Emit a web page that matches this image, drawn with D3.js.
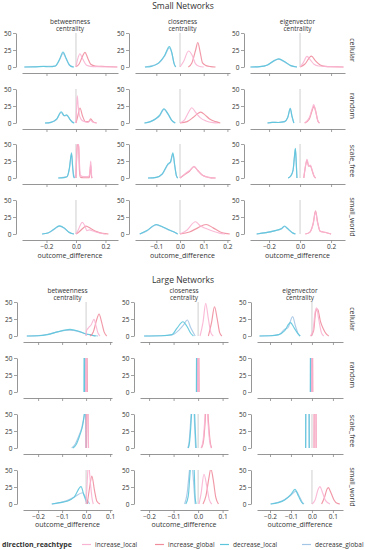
<!DOCTYPE html>
<html>
<head>
<meta charset="utf-8">
<script src="https://cdn.jsdelivr.net/npm/d3@7"></script>
<style>
body { margin: 0; background: #fff; }
text { font-family: "Open Sans", sans-serif; fill: #333; }
</style>
</head>
<body>
<svg id="chart" width="365" height="550"></svg>
<script>
const centralities = ["betweenness", "closeness", "eigenvector"];
const topologies = ["cellular", "random", "scale_free", "small_world"];
const reachtypes = ["increase_local", "increase_global", "decrease_local", "decrease_global"];
const colors = ["#f9b4d3", "#ef8d9d", "#5cc5dc", "#a4c6e6"];
const yTicks = [0, 25, 50];

const smallXTicks = [[-0.2, 0, 0.2], [-0.1, 0, 0.1, 0.2], [-0.2, 0, 0.2]];
const largeXTicks = [[-0.2, -0.1, 0, 0.1], [-0.2, -0.1, 0, 0.1], [-0.2, -0.1, 0, 0.1]];
const smallXDomains = [[-0.366, 0.285], [-0.19, 0.211], [-0.323, 0.29]];
const largeXDomains = [[-0.263, 0.108], [-0.237, 0.122], [-0.262, 0.148]];

// each row = one topology, curves in order increase_local, increase_global, decrease_local, decrease_global
// a curve is a list of [outcome_difference, density]
const smallBetweenness = [
  [
    [[0.0,0],[0.012,12],[0.027,19.5],[0.045,12],[0.07,3],[0.1,1],[0.15,0.5],[0.28,0]],
    [[0.0,0.5],[0.02,4],[0.045,16],[0.061,21.5],[0.08,13],[0.1,4],[0.13,1.5],[0.2,0.8],[0.28,0]],
    [[-0.35,0],[-0.28,0.2],[-0.22,1],[-0.18,0.3],[-0.14,1.5],[-0.11,12],[-0.088,22],[-0.065,12],[-0.045,3],[-0.03,0.5],[-0.015,0]],
    [[-0.35,0],[-0.22,0.8],[-0.14,1.3],[-0.11,11],[-0.088,20],[-0.065,11],[-0.045,3],[-0.015,0]]
  ],
  [
    [[0.0,0],[0.005,25],[0.009,40],[0.015,25],[0.025,10],[0.04,4],[0.06,2],[0.08,1],[0.1,4],[0.115,1],[0.14,0]],
    [[0.0,0],[0.01,8],[0.027,22],[0.045,10],[0.065,2],[0.085,2],[0.1,6],[0.115,2],[0.14,0]],
    [[-0.21,0],[-0.17,1],[-0.13,6],[-0.1,16.6],[-0.08,11],[-0.063,12],[-0.04,5],[-0.025,1],[-0.012,0]],
    [[-0.21,0],[-0.17,1],[-0.13,5.5],[-0.1,15.5],[-0.08,10.5],[-0.063,11],[-0.04,5],[-0.012,0]]
  ],
  [
    [[0.0,0],[0.006,40],[0.01,52],[0.018,48],[0.024,20],[0.03,4],[0.05,2],[0.08,2],[0.092,4],[0.1,25],[0.106,4],[0.11,0]],
    [[0.0,0],[0.006,38],[0.01,50],[0.018,46],[0.024,10],[0.03,1],[0.05,0.3],[0.09,0.5],[0.1,19],[0.106,1],[0.11,0]],
    [[-0.12,0],[-0.08,0.5],[-0.06,2],[-0.045,14],[-0.03,37],[-0.022,15],[-0.016,2],[-0.01,0]],
    [[-0.12,0],[-0.06,2],[-0.045,13],[-0.03,35],[-0.022,14],[-0.01,0]]
  ],
  [
    [[0.0,0],[0.015,6],[0.043,17],[0.06,12],[0.075,5],[0.09,6],[0.12,4],[0.16,1.5],[0.2,0]],
    [[0.0,0],[0.02,3],[0.045,8],[0.068,11.5],[0.1,8],[0.14,3.5],[0.18,1],[0.22,0]],
    [[-0.23,0],[-0.19,1.5],[-0.15,7],[-0.113,12],[-0.08,9],[-0.05,3],[-0.03,0.8],[-0.014,0]],
    [[-0.23,0],[-0.19,1.5],[-0.15,6.5],[-0.113,11.5],[-0.08,8.5],[-0.05,3],[-0.014,0]]
  ]
];

const smallCloseness = [
  [
    [[0.0,0],[0.015,8],[0.036,23.5],[0.05,18],[0.065,5],[0.08,1],[0.1,0]],
    [[0.035,0],[0.05,6],[0.066,25],[0.075,36],[0.085,22],[0.095,6],[0.11,2],[0.13,0.5],[0.15,0]],
    [[-0.148,0],[-0.12,1],[-0.09,6],[-0.065,17],[-0.045,30],[-0.035,22],[-0.025,5],[-0.018,0]],
    [[-0.148,0],[-0.09,5.5],[-0.065,16],[-0.045,28],[-0.035,21],[-0.025,5],[-0.018,0]]
  ],
  [
    [[0.0,0],[0.02,5],[0.035,15],[0.05,22.5],[0.065,16],[0.085,8],[0.11,3],[0.14,0.5],[0.16,0]],
    [[0.0,0],[0.03,2],[0.055,8],[0.075,14],[0.088,16],[0.105,12],[0.125,6],[0.15,2],[0.17,0]],
    [[-0.15,0],[-0.125,2],[-0.1,7],[-0.085,12],[-0.068,21],[-0.05,13],[-0.035,4],[-0.02,0]],
    [[-0.15,0],[-0.125,2],[-0.1,6.5],[-0.085,11],[-0.068,20],[-0.05,12.5],[-0.035,4],[-0.02,0]]
  ],
  [
    [[0.0,0],[0.02,6],[0.04,11],[0.059,17],[0.075,11],[0.095,4],[0.12,1],[0.15,0]],
    [[0.0,0],[0.02,5],[0.04,10],[0.059,16.5],[0.075,11],[0.095,4],[0.12,1],[0.15,0]],
    [[-0.135,0],[-0.1,1],[-0.075,6],[-0.05,21],[-0.04,24],[-0.03,37],[-0.022,18],[-0.015,3],[-0.01,0]],
    [[-0.135,0],[-0.1,1],[-0.075,5.5],[-0.05,20],[-0.04,23],[-0.03,35],[-0.022,17],[-0.015,3],[-0.01,0]]
  ],
  [
    [[0.0,0],[0.03,6],[0.065,18],[0.085,12],[0.11,8],[0.14,4],[0.17,1],[0.19,0]],
    [[0.0,0],[0.04,3],[0.075,9],[0.11,14],[0.14,9],[0.17,3],[0.19,1],[0.21,0]],
    [[-0.17,0],[-0.14,5],[-0.1,14],[-0.07,10],[-0.045,6],[-0.025,3],[-0.01,0]],
    [[-0.17,0],[-0.14,4.5],[-0.1,13.5],[-0.07,9.5],[-0.045,5.5],[-0.025,3],[-0.01,0]]
  ]
];

const smallEigenvector = [
  [
    [[0.0,0],[0.02,6],[0.045,15.7],[0.065,11],[0.09,4],[0.12,1.5],[0.2,0.5],[0.28,0]],
    [[0.0,0],[0.03,4],[0.073,16],[0.1,9],[0.13,3],[0.16,1],[0.22,0.3],[0.28,0]],
    [[-0.32,0],[-0.26,0.5],[-0.21,3],[-0.17,9],[-0.137,12],[-0.1,8],[-0.06,2],[-0.02,0]],
    [[-0.32,0],[-0.26,0.5],[-0.21,3],[-0.17,8.5],[-0.137,11.5],[-0.1,7.5],[-0.06,2],[-0.02,0]]
  ],
  [
    [[0.03,0],[0.06,8],[0.08,22],[0.088,27],[0.1,18],[0.115,3],[0.125,0]],
    [[0.03,0],[0.06,6],[0.08,20],[0.09,24.5],[0.102,16],[0.115,3],[0.125,0]],
    [[-0.21,0],[-0.18,1],[-0.14,0.8],[-0.1,2],[-0.08,8],[-0.063,21.6],[-0.052,10],[-0.04,0]],
    [[-0.21,0],[-0.18,1],[-0.14,0.8],[-0.1,2],[-0.08,7.5],[-0.063,20.5],[-0.052,9.5],[-0.04,0]]
  ],
  [
    [[0.024,0],[0.035,18],[0.045,27.5],[0.055,18],[0.067,19],[0.075,14],[0.09,3],[0.1,0]],
    [[0.024,0],[0.035,17],[0.045,26.5],[0.055,17.5],[0.067,18],[0.075,13],[0.09,3],[0.1,0]],
    [[-0.077,0],[-0.06,3],[-0.045,12],[-0.035,35],[-0.03,43.6],[-0.025,25],[-0.02,0]],
    [[-0.077,0],[-0.06,3],[-0.045,11],[-0.035,33],[-0.03,42],[-0.025,24],[-0.02,0]]
  ],
  [
    [[0.034,0],[0.06,2],[0.085,15],[0.1,33],[0.112,18],[0.13,4],[0.16,2.5],[0.2,0]],
    [[0.034,0],[0.06,2],[0.085,16],[0.1,34],[0.112,19],[0.13,4],[0.16,2.5],[0.2,0]],
    [[-0.28,0],[-0.22,2],[-0.16,5],[-0.12,8],[-0.1,11.8],[-0.08,8],[-0.05,2],[-0.03,0]],
    [[-0.28,0],[-0.22,2],[-0.16,5],[-0.12,7.5],[-0.1,11],[-0.08,7.5],[-0.05,2],[-0.03,0]]
  ]
];

const largeBetweenness = [
  [
    [[0.0,0],[0.002,8],[0.01,12],[0.022,17],[0.033,24.5],[0.042,14],[0.05,4],[0.058,0]],
    [[0.017,0],[0.03,6],[0.045,25],[0.054,32.4],[0.065,20],[0.075,6],[0.086,0]],
    [[-0.247,0],[-0.2,0.3],[-0.16,2],[-0.12,6],[-0.067,9.8],[-0.03,7],[0.0,3],[0.017,2],[0.03,0.5],[0.04,0]],
    [[-0.247,0],[-0.2,0.5],[-0.16,2.5],[-0.12,6],[-0.07,8.5],[-0.03,6.5],[0.0,3],[0.02,1.5],[0.05,0]]
  ],
  [
    [[-0.002,0],[0.0,150],[0.002,0]],
    [[0.001,0],[0.003,150],[0.005,0]],
    [[-0.009,0],[-0.007,150],[-0.005,0]],
    [[-0.006,0],[-0.004,150],[-0.002,0]]
  ],
  [
    [[-0.001,0],[0.001,80],[0.008,80],[0.01,0]],
    [[0.0,0],[0.003,90],[0.007,60],[0.01,0]],
    [[-0.055,0],[-0.04,6],[-0.025,20],[-0.015,32],[-0.007,50],[-0.003,60],[0.0,0]],
    [[-0.06,0],[-0.045,6],[-0.03,18],[-0.018,30],[-0.008,48],[-0.004,60],[0.0,0]]
  ],
  [
    [[0.0,0],[0.005,35],[0.01,60],[0.017,35],[0.025,8],[0.03,0]],
    [[0.005,0],[0.015,25],[0.024,41],[0.035,20],[0.045,4],[0.058,0]],
    [[-0.143,0],[-0.11,2],[-0.08,4],[-0.05,10],[-0.021,25.5],[-0.01,14],[0.005,0]],
    [[-0.143,0],[-0.11,2],[-0.08,5],[-0.05,10],[-0.015,16.6],[0.0,8],[0.015,0]]
  ]
];

const largeCloseness = [
  [
    [[0.008,0],[0.02,20],[0.031,48],[0.042,25],[0.052,5],[0.062,0]],
    [[0.042,0],[0.055,20],[0.067,43],[0.078,25],[0.088,5],[0.097,0]],
    [[-0.22,0],[-0.15,0.3],[-0.107,2],[-0.085,12],[-0.062,21],[-0.045,14],[-0.03,4],[-0.019,0]],
    [[-0.22,0],[-0.15,0.3],[-0.107,1.5],[-0.08,8],[-0.06,16],[-0.044,23.5],[-0.03,12],[-0.012,0]]
  ],
  [
    [[-0.002,0],[0.0,150],[0.002,0]],
    [[0.0,0],[0.002,150],[0.004,0]],
    [[-0.007,0],[-0.005,150],[-0.003,0]],
    [[-0.005,0],[-0.003,150],[-0.001,0]]
  ],
  [
    [[0.012,0],[0.02,10],[0.027,40],[0.033,80],[0.04,40],[0.047,10],[0.054,0]],
    [[0.014,0],[0.022,10],[0.029,40],[0.035,80],[0.042,40],[0.049,10],[0.055,0]],
    [[-0.04,0],[-0.035,8],[-0.03,30],[-0.025,60],[-0.02,90],[-0.015,60],[-0.012,30],[-0.008,0]],
    [[-0.042,0],[-0.037,8],[-0.032,30],[-0.027,60],[-0.022,90],[-0.017,60],[-0.014,30],[-0.01,0]]
  ],
  [
    [[0.004,0],[0.012,15],[0.024,43.7],[0.036,25],[0.046,6],[0.056,0]],
    [[0.02,0],[0.032,12],[0.044,38],[0.052,52],[0.062,35],[0.072,10],[0.083,0]],
    [[-0.05,0],[-0.04,12],[-0.032,50],[-0.024,80],[-0.016,50],[-0.012,10],[-0.008,0]],
    [[-0.055,0],[-0.045,15],[-0.035,50],[-0.028,70],[-0.02,40],[-0.012,0]]
  ]
];

const largeEigenvector = [
  [
    [[-0.008,0],[0.005,8],[0.015,35],[0.022,41.6],[0.032,25],[0.045,5],[0.056,0]],
    [[-0.005,0],[0.008,8],[0.018,36],[0.027,39.7],[0.04,22],[0.055,10],[0.068,3],[0.08,0]],
    [[-0.25,0],[-0.2,0.3],[-0.158,2],[-0.13,8],[-0.103,19.6],[-0.085,12],[-0.068,4],[-0.056,0]],
    [[-0.25,0],[-0.2,0.3],[-0.158,2],[-0.13,10],[-0.115,12],[-0.092,28.4],[-0.078,14],[-0.065,3],[-0.056,0]]
  ],
  [
    [[-0.002,0],[0.0,150],[0.002,0]],
    [[0.0,0],[0.002,150],[0.004,0]],
    [[-0.008,0],[-0.006,150],[-0.004,0]],
    [[-0.006,0],[-0.004,150],[-0.002,0]]
  ],
  [
    [[0.01,0],[0.011,100],[0.015,300],[0.019,100],[0.02,0]],
    [[0.01,0],[0.011,100],[0.015,300],[0.019,100],[0.02,0]],
    [[-0.03,0],[-0.029,100],[-0.021,300],[-0.014,100],[-0.013,0]],
    [[-0.03,0],[-0.029,100],[-0.021,300],[-0.014,100],[-0.013,0]]
  ],
  [
    [[0.0,0],[0.015,6],[0.03,22],[0.038,25.5],[0.05,17],[0.065,5],[0.086,0]],
    [[0.046,0],[0.06,10],[0.072,22],[0.078,24],[0.09,17],[0.105,6],[0.12,1],[0.133,0]],
    [[-0.197,0],[-0.16,2],[-0.13,6],[-0.1,14],[-0.081,21.6],[-0.065,12],[-0.05,3],[-0.041,0]],
    [[-0.197,0],[-0.16,2.5],[-0.13,6.5],[-0.1,13],[-0.076,19],[-0.06,11],[-0.045,2],[-0.038,0]]
  ]
];

const svg = d3.select("#chart");
svg.append("rect").attr("width", 365).attr("height", 550).attr("fill", "#fff");

const panelH = 34;
const offset = 6;

const sections = [
  { title: "Small Networks", titleY: 9, colTitleY: 23.5, rowTops: [33, 89, 144, 200],
    xRanges: [[22, 118], [135, 230], [250, 345]], domains: smallXDomains, ticks: smallXTicks,
    curves: [smallBetweenness, smallCloseness, smallEigenvector], xlabelDy: 18 },
  { title: "Large Networks", titleY: 283, colTitleY: 292.5, rowTops: [302, 358, 414, 470],
    xRanges: [[23, 112], [140, 228], [257, 343]], domains: largeXDomains, ticks: largeXTicks,
    curves: [largeBetweenness, largeCloseness, largeEigenvector], xlabelDy: 17 }
];

const fmt = d => d3.format(".1f")(d);
let clipId = 0;

sections.forEach(sec => {
  svg.append("text")
    .attr("x", 183).attr("y", sec.titleY)
    .attr("text-anchor", "middle")
    .style("font-size", "8.5px")
    .text(sec.title);

  centralities.forEach((cen, ci) => {
    const xr = sec.xRanges[ci];
    const cx = (xr[0] + xr[1]) / 2;
    // two separate lines so they don't collide
    svg.append("text")
      .attr("x", cx).attr("y", sec.colTitleY)
      .attr("text-anchor", "middle")
      .style("font-size", "6.5px")
      .text(cen);
    svg.append("text")
      .attr("x", cx).attr("y", sec.colTitleY + 7.5)
      .attr("text-anchor", "middle")
      .style("font-size", "6.5px")
      .text("centrality");

    topologies.forEach((topo, ri) => {
      const top = sec.rowTops[ri];
      const x = d3.scaleLinear().domain(sec.domains[ci]).range(xr);
      const y = d3.scaleLinear().domain([0, 50]).range([top + panelH, top]);
      const g = svg.append("g");
      const isBottom = ri === topologies.length - 1;

      const id = "clip" + (clipId++);
      svg.append("clipPath").attr("id", id)
        .append("rect")
        .attr("x", xr[0]).attr("y", top)
        .attr("width", xr[1] - xr[0]).attr("height", panelH + 2);

      // zero reference line
      g.append("line")
        .attr("x1", x(0)).attr("x2", x(0))
        .attr("y1", y(0)).attr("y2", y(50))
        .attr("stroke", "#cfcfcf").attr("stroke-width", 1);

      const line = d3.line()
        .x(d => x(d[0])).y(d => y(d[1]))
        .curve(d3.curveMonotoneX);

      const rowCurves = sec.curves[ci][ri];
      // first hue level ends up on top
      [3, 2, 1, 0].forEach(k => {
        g.append("path")
          .datum(rowCurves[k])
          .attr("clip-path", `url(#${id})`)
          .attr("d", line)
          .attr("fill", "none")
          .attr("stroke", colors[k])
          .attr("stroke-width", 1.15)
          .attr("stroke-opacity", 0.9);
      });

      const xAxis = d3.axisBottom(x)
        .tickValues(sec.ticks[ci])
        .tickSize(3).tickSizeOuter(0).tickPadding(1)
        .tickFormat(isBottom ? fmt : "");
      const gx = svg.append("g")
        .attr("transform", `translate(0,${y(0) + offset})`)
        .call(xAxis);

      const yAxis = d3.axisLeft(y)
        .tickValues(yTicks)
        .tickSize(3).tickSizeOuter(0).tickPadding(1.5);
      const gy = svg.append("g")
        .attr("transform", `translate(${xr[0] - offset},0)`)
        .call(yAxis);

      [gx, gy].forEach(a => {
        a.select(".domain").attr("stroke", "#8a8a8a").attr("stroke-width", 0.9);
        a.selectAll(".tick line").attr("stroke", "#8a8a8a").attr("stroke-width", 0.8);
        a.selectAll(".tick text")
          .attr("fill", "#333")
          .style("font-family", "'Open Sans', sans-serif")
          .style("font-size", "6.5px");
      });

      if (ci === 2) {
        svg.append("text")
          .attr("transform", `translate(352,${top + panelH / 2}) rotate(90)`)
          .attr("text-anchor", "middle")
          .attr("dy", "0.35em")
          .style("font-size", "7px")
          .text(topo);
      }

      if (isBottom) {
        svg.append("text")
          .attr("x", cx).attr("y", y(0) + offset + sec.xlabelDy)
          .attr("text-anchor", "middle")
          .style("font-size", "7px")
          .text("outcome_difference");
      }
    });
  });
});

// legend
const legendY = 547;
svg.append("text")
  .attr("x", 2).attr("y", legendY)
  .style("font-size", "7px").style("font-weight", "bold")
  .text("direction_reachtype");

const legendX = [82, 155, 220, 302];
reachtypes.forEach((r, i) => {
  svg.append("line")
    .attr("x1", legendX[i]).attr("x2", legendX[i] + 9)
    .attr("y1", legendY - 2.5).attr("y2", legendY - 2.5)
    .attr("stroke", colors[i]).attr("stroke-width", 1.2);
  svg.append("text")
    .attr("x", legendX[i] + 13).attr("y", legendY)
    .style("font-size", "6.5px")
    .text(r);
});
</script>
</body>
</html>
